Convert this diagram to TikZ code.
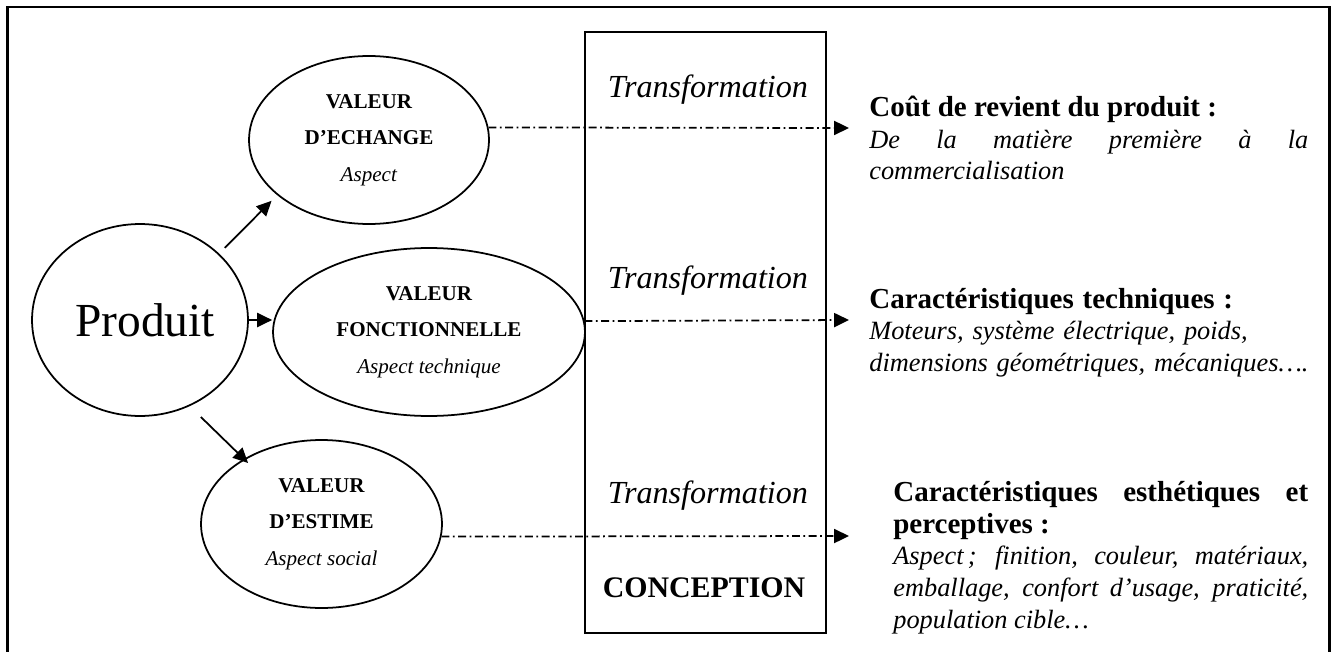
\documentclass[tikz,border=0pt]{standalone}
\usepackage{fontspec}
\setmainfont{Liberation Serif}
\usepackage{tikz}
\usetikzlibrary{arrows.meta,shapes.geometric}
\tikzset{
  valeurbox/.style={draw=black,ellipse,line width=1pt,inner sep=0pt,
                    minimum height=3.36cm,align=center,
                    font=\fontsize{12}{20.8}\selectfont},
  produitbox/.style={draw=black,ellipse,line width=1pt,inner sep=0pt,
                     minimum width=4.32cm,minimum height=3.84cm,
                     font=\fontsize{27}{30}\selectfont},
  concbox/.style={draw=black,line width=1pt,inner sep=0pt,
                  minimum width=4.82cm,minimum height=12.02cm},
  transtext/.style={anchor=base,inner sep=0pt,
                    font=\fontsize{18.3}{20}\selectfont\itshape},
  conctext/.style={anchor=base,inner sep=0pt,
                   font=\fontsize{17}{20}\selectfont\bfseries},
  desccard/.style={anchor=base west,inner sep=0pt,align=justify,
                   font=\fontsize{15}{18}\selectfont\itshape},
  flowarr/.style={-{Triangle[length=8.5pt,width=8pt]},line width=1pt},
  dasharr/.style={-{Triangle[length=8.5pt,width=8pt]},line width=1pt,
                  dash pattern=on 4.5pt off 2pt on 1pt off 2pt},
  framebox/.style={line width=1.2pt}
}
\newcommand{\titre}[1]{{\fontsize{16.5}{18}\selectfont\upshape\bfseries #1}}

\begin{document}
\begin{tikzpicture}[x=0.02cm,y=-0.02cm,>=Latex]
  \useasboundingbox (0,0) rectangle (1332,652);
  \draw[framebox] (7.5,665) |- (1329.5,7) -- (1329.5,665);

  \node[produitbox] (prod) at (140,320) {\hspace*{0.2cm}Produit};
  \node[valeurbox,minimum width=4.8cm] (ech) at (369,140)
    {\textbf{VALEUR}\\\textbf{D’ECHANGE}\\\textit{Aspect}};
  \node[valeurbox,minimum width=6.24cm] (fonc) at (429,332)
    {\textbf{VALEUR}\\\textbf{FONCTIONNELLE}\\\textit{Aspect technique}};
  \node[valeurbox,minimum width=4.82cm] (est) at (321.5,524)
    {\textbf{VALEUR}\\\textbf{D’ESTIME}\\\textit{Aspect social}};

  \node[concbox] (conc) at (705.5,332.5) {};
  \node[transtext] (trans1) at (708,97.7) {Transformation};
  \node[transtext] (trans2) at (708,288.3) {Transformation};
  \node[transtext] (trans3) at (708,503.3) {Transformation};
  \node[conctext] (concept) at (704,597.7) {CONCEPTION};

  \node[desccard,text width=8.78cm] (cout) at (869,116.7)
    {\titre{Coût de revient du produit :}\\
     De la matière première à la\linebreak commercialisation};
  \node[desccard,text width=9.5cm,align=left] (tech) at (869,308.3)
    {\titre{Caractéristiques techniques :}\\
     Moteurs, système électrique, poids,\\
     dimensions géométriques, mécaniques….};
  \node[desccard,text width=8.3cm] (esth) at (893,501.7)
    {\titre{Caractéristiques esthétiques et\linebreak perceptives :}\\
     Aspect\,; finition, couleur, matériaux,\linebreak
     emballage, confort d’usage, praticité,\linebreak population cible…};

  \coordinate (e1) at (849,128);
  \coordinate (e2) at (849,320);
  \coordinate (e3) at (849,536);

  \draw[flowarr,shorten <=0.16cm,shorten >=0.16cm] (prod.40) -- (ech.211);
  \draw[flowarr] (prod.east) -- (prod.east -| fonc.west);
  \draw[flowarr,shorten <=0.31cm,shorten >=-0.12cm] (prod.300) -- (est.140);

  \draw[dasharr] (ech.6) -- (e1);
  \draw[dasharr] (fonc.4) -- (e2);
  \draw[dasharr] (est.354) -- (e3);
\end{tikzpicture}
\end{document}
